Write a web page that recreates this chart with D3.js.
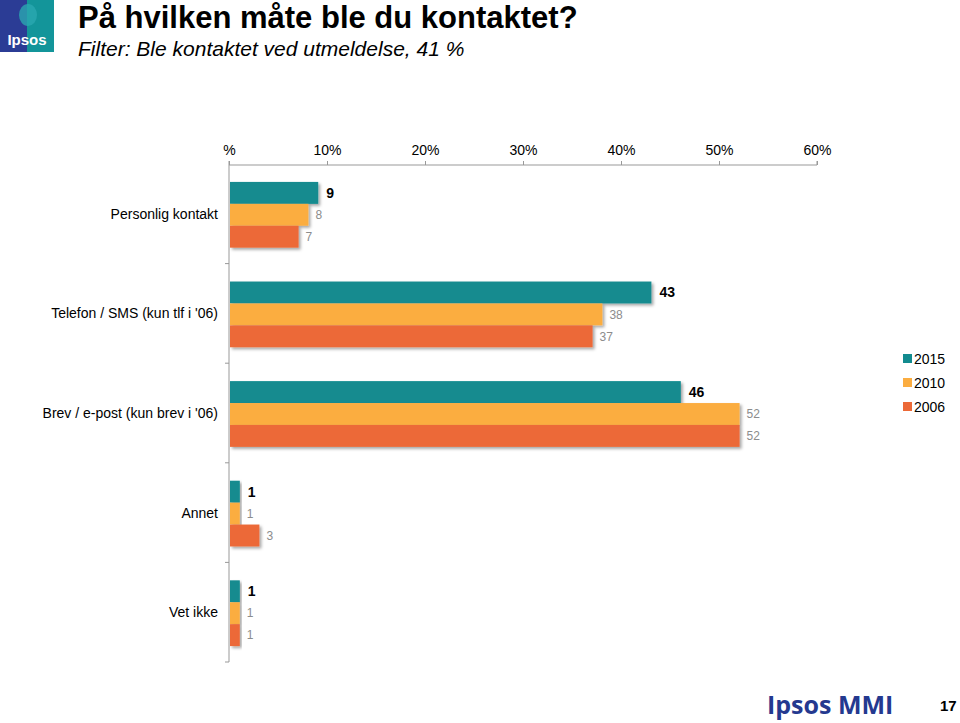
<!DOCTYPE html>
<html><head><meta charset="utf-8">
<script src="https://cdn.jsdelivr.net/npm/d3@7/dist/d3.min.js"></script>
<style>body{margin:0;background:#fff;}svg{display:block;font-family:Arial,"Liberation Sans",sans-serif;}</style>
</head><body>
<script>
const categories = ["Personlig kontakt","Telefon / SMS (kun tlf i '06)","Brev / e-post (kun brev i '06)","Annet","Vet ikke"];
const years = ["2015","2010","2006"];
const v2015 = [9,43,46,1,1];
const v2010 = [8,38,52,1,1];
const v2006 = [7,37,52,3,1];
const tickValues = [0,10,20,30,40,50,60];
const tickLabels = ["%","10%","20%","30%","40%","50%","60%"];
const colors = ["#128b8f","#fbad41","#ec6937"];

const W=960,H=723;
const svg=d3.select("body").append("svg").attr("width",W).attr("height",H);
const defs=svg.append("defs");
const f=defs.append("filter").attr("id","sh").attr("x","-10%").attr("y","-20%").attr("width","130%").attr("height","160%");
f.append("feDropShadow").attr("dx",2).attr("dy",2).attr("stdDeviation",1.5).attr("flood-color","#000").attr("flood-opacity",0.35);
const lg=defs.append("linearGradient").attr("id","lg").attr("x1","0").attr("x2","1");
lg.append("stop").attr("offset","0").attr("stop-color","#2b3c95");
lg.append("stop").attr("offset","0.5").attr("stop-color","#2b3c95");
lg.append("stop").attr("offset","0.5").attr("stop-color","#13959a");
lg.append("stop").attr("offset","1").attr("stop-color","#13959a");

// logo
svg.append("rect").attr("x",0).attr("y",0).attr("width",54).attr("height",52).attr("fill","url(#lg)");
svg.append("ellipse").attr("cx",28).attr("cy",15).attr("rx",9).attr("ry",11).attr("fill","#2aa7b0").attr("opacity",0.8);
svg.append("text").attr("x",27).attr("y",45).attr("text-anchor","middle").attr("fill","#fff").attr("font-size",15).attr("font-weight","bold").text("Ipsos");

// titles
svg.append("text").attr("x",78).attr("y",28).attr("font-size",31).attr("font-weight","bold").attr("fill","#000").text("På hvilken måte ble du kontaktet?");
svg.append("text").attr("x",78).attr("y",56).attr("font-size",21).attr("font-style","italic").attr("fill","#000").text("Filter: Ble kontaktet ved utmeldelse, 41 %");

const x=d3.scaleLinear().domain([0,60]).range([229,817]);
const y=d3.scaleBand().domain(categories).range([164,662]).padding(0);
const step=y.step();
const y1=d3.scaleBand().domain(years).range([0.18*step,0.84*step]).padding(0);

// top axis
const ax=svg.append("g").attr("transform","translate(0,165)")
  .call(d3.axisTop(x).tickValues(tickValues).tickSize(4).tickPadding(6).tickFormat((d,i)=>tickLabels[i]));
ax.select(".domain").attr("stroke","#999").attr("d",`M${x(0)},-4V0H${x(60)}V-4`);
ax.selectAll(".tick line").attr("stroke","#999");
ax.selectAll(".tick text").attr("font-size",14).attr("fill","#000").attr("font-family","Arial,'Liberation Sans',sans-serif");

// left axis
svg.append("line").attr("x1",x(0)).attr("x2",x(0)).attr("y1",165).attr("y2",662).attr("stroke","#999");
svg.selectAll(".lt").data(categories).enter().append("line")
  .attr("x1",x(0)-4).attr("x2",x(0)).attr("y1",d=>y(d)+step).attr("y2",d=>y(d)+step).attr("stroke","#999");

svg.selectAll(".cl").data(categories).enter().append("text")
  .attr("x",218).attr("y",d=>y(d)+step/2).attr("dy","0.35em").attr("text-anchor","end")
  .attr("font-size",14).attr("fill","#000").text(d=>d);

const series=[v2015,v2010,v2006];
series.forEach((vals,si)=>{
  const g=svg.append("g");
  g.selectAll("rect").data(vals).enter().append("rect")
    .attr("x",x(0)+1).attr("y",(d,i)=>y(categories[i])+y1(years[si]))
    .attr("width",d=>x(d)-x(0)).attr("height",y1.bandwidth())
    .attr("fill",colors[si]).attr("filter","url(#sh)");
  g.selectAll("text").data(vals).enter().append("text")
    .attr("x",d=>x(d)+ (si===0?9:8)).attr("y",(d,i)=>y(categories[i])+y1(years[si])+y1.bandwidth()/2)
    .attr("dy","0.35em")
    .attr("font-size",si===0?14:12).attr("font-weight",si===0?"bold":"normal")
    .attr("fill",si===0?"#000":"#8c8c8c").text(d=>d);
});

// legend
const leg=svg.append("g");
years.forEach((yr,i)=>{
  leg.append("rect").attr("x",903).attr("y",354+i*24).attr("width",9).attr("height",9).attr("fill",colors[i]);
  leg.append("text").attr("x",914).attr("y",359+i*24).attr("dy","0.35em").attr("font-size",14).attr("fill","#000").text(yr);
});

// footer
svg.append("text").attr("x",767).attr("y",714).attr("font-size",25).attr("font-weight","bold").attr("fill","#24398f").attr("font-family","'Open Sans',sans-serif").text("Ipsos MMI");
svg.append("text").attr("x",940).attr("y",711).attr("font-size",15).attr("font-weight","bold").attr("fill","#000").text("17");
</script>
</body></html>
